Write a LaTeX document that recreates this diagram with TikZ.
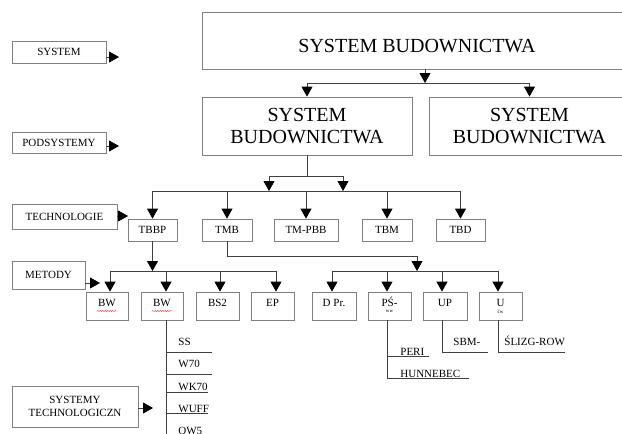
\documentclass[tikz,border=0pt]{standalone}
\usepackage{fontspec}
\setmainfont{Liberation Serif}
\usetikzlibrary{arrows.meta,decorations.pathmorphing}
\begin{document}
\begin{tikzpicture}[x=1pt,y=-1pt,line width=0.8pt]
  \tikzstyle{box}=[draw=black!50,inner sep=0pt,font=\fontsize{11}{13}\selectfont]
  \tikzstyle{bigbox}=[box,font=\fontsize{20}{22}\selectfont,align=center]
  \tikzstyle{lbl}=[box,align=center]
  \tikzstyle{tech}=[box,minimum height=22pt]
  \tikzstyle{meth}=[box,minimum height=28pt,text height=8pt,text depth=6.6pt]
  \tikzstyle{sub}=[inner sep=0pt,font=\fontsize{5}{5}\selectfont,label distance=-11pt]
  \tikzstyle{item}=[inner sep=0pt,anchor=base west,font=\fontsize{11}{13}\selectfont]
  \tikzstyle{line}=[draw=black!75]
  \tikzstyle{arr}=[line,-{Triangle[width=11pt,length=10pt,fill=black,color=black]}]
  \tikzstyle{wave}=[draw=red!80,line width=0.4pt,decorate,decoration={snake,amplitude=0.6pt,segment length=2.5pt}]
  \useasboundingbox (0,0) rectangle (622,434);
  \node[lbl,minimum width=94pt,minimum height=22pt] (lsys) at (59,52) {SYSTEM};
  \node[lbl,minimum width=94pt,minimum height=21pt] (lpod) at (59,142.5) {PODSYSTEMY};
  \node[lbl,minimum width=105pt,minimum height=25pt] (ltech) at (64.5,216.5) {TECHNOLOGIE};
  \node[lbl,minimum width=73pt,minimum height=28pt] (lmet) at (48.5,275) {METODY};
  \node[lbl,minimum width=126pt,minimum height=41pt] (lsyst) at (75,406.5) {SYSTEMY\\TECHNOLOGICZN};
  \node[bigbox,minimum width=430pt,minimum height=57pt,text height=24pt,text depth=0pt] (sysb) at (417,40.5) {SYSTEM BUDOWNICTWA};
  \node[bigbox,minimum width=210pt,minimum height=58pt] (pod1) at (307,126) {SYSTEM\\BUDOWNICTWA};
  \node[bigbox,minimum width=201pt,minimum height=58pt] (pod2) at (529.5,126) {SYSTEM\\BUDOWNICTWA};
  \node[tech,minimum width=49pt] (tbbp) at (152.5,230) {TBBP};
  \node[tech,minimum width=50pt] (tmb) at (227,230) {TMB};
  \node[tech,minimum width=64pt] (tmpbb) at (306,230) {TM-PBB};
  \node[tech,minimum width=50pt] (tbm) at (387,230) {TBM};
  \node[tech,minimum width=49pt] (tbd) at (460.5,230) {TBD};
  \node[meth,minimum width=42pt,label={[sub]below:.}] (bw1) at (107,306) {BW};
  \node[meth,minimum width=42pt] (bw2) at (162,306) {BW};
  \node[meth,minimum width=43pt] (bs2) at (217.5,306) {BS2};
  \node[meth,minimum width=43pt] (ep) at (272.5,306) {EP};
  \node[meth,minimum width=44pt] (dpr) at (334,306) {D Pr.};
  \node[meth,minimum width=43pt,label={[sub]below:ww}] (psw) at (389.5,306) {PŚ-};
  \node[meth,minimum width=44pt] (up) at (445,306) {UP};
  \node[meth,minimum width=43pt,label={[sub]below:ćw}] (uu) at (500.5,306) {U};
  \node[item] (ss) at (178,345) {SS};
  \node[item] (w70) at (178,367) {W70};
  \node[item] (wk70) at (178,390) {WK70};
  \node[item] (wuff) at (178,412) {WUFF};
  \node[item] (ow5) at (178,434) {OW5};
  \node[item] (peri) at (400,355) {PERI};
  \node[item] (hunn) at (400,377) {HUNNEBEC};
  \node[item] (sbm) at (453,345) {SBM-};
  \node[item] (slizg) at (504,345) {ŚLIZG-ROW};
  \draw[wave] ([xshift=-10pt,yshift=-5pt]bw1.center) -- ++(20,0);
  \draw[wave] ([xshift=-10pt,yshift=-5pt]bw2.center) -- ++(20,0);
  \coordinate (s0) at (119,57);
  \coordinate (p0) at (119,146);
  \coordinate (t0) at (128,216);
  \coordinate (m0) at (100,283);
  \coordinate (st0) at (153,408);
  \draw[arr] (lsys.east |- s0) -- (s0);
  \draw[arr] (lpod.east |- p0) -- (p0);
  \draw[arr] (ltech.east |- t0) -- (t0);
  \draw[arr] (lmet.east |- m0) -- (m0);
  \draw[arr] (lsyst.east |- st0) -- (st0);
  \coordinate (j1) at (425,83);
  \draw[arr] (sysb.south -| j1) -- (j1);
  \draw[arr] (j1) -| (pod1.north);
  \draw[arr] (j1) -| (pod2.north);
  \coordinate (j2) at (307,176);
  \coordinate (j2a) at (269,176);
  \coordinate (j2b) at (343,176);
  \coordinate (tbar) at (0,191);
  \draw[line] (pod1.south) -- (j2);
  \draw[line] (j2a) -- (j2b);
  \draw[arr] (j2a) -- (j2a |- tbar);
  \draw[arr] (j2b) -- (j2b |- tbar);
  \draw[line] (tbbp.north |- tbar) -- (tbd.north |- tbar);
  \draw[arr] (tbbp.north |- tbar) -- (tbbp.north);
  \draw[arr] (tmb.north |- tbar) -- (tmb.north);
  \draw[arr] (tmpbb.north |- tbar) -- (tmpbb.north);
  \draw[arr] (tbm.north |- tbar) -- (tbm.north);
  \draw[arr] (tbd.north |- tbar) -- (tbd.north);
  \coordinate (a1) at (110,271);
  \coordinate (a2) at (166,271);
  \coordinate (a3) at (220,271);
  \coordinate (a4) at (276,271);
  \draw[arr] (tbbp.south) -- (tbbp.south |- a1);
  \draw[line] (a1) -- (a4);
  \draw[arr] (a1) -- (a1 |- bw1.north);
  \draw[arr] (a2) -- (a2 |- bw2.north);
  \draw[arr] (a3) -- (a3 |- bs2.north);
  \draw[arr] (a4) -- (a4 |- ep.north);
  \coordinate (j3) at (417,256);
  \coordinate (b1) at (332,271);
  \coordinate (b2) at (387,271);
  \coordinate (b3) at (442,271);
  \coordinate (b4) at (498,271);
  \draw[line] (tmb.south) |- (j3);
  \draw[arr] (j3) -- (j3 |- b1);
  \draw[line] (b1) -- (b4);
  \draw[arr] (b1) -- (b1 |- dpr.north);
  \draw[arr] (b2) -- (b2 |- psw.north);
  \draw[arr] (b3) -- (b3 |- up.north);
  \draw[arr] (b4) -- (b4 |- uu.north);
  \coordinate (bwend) at (166,440);
  \draw[line] (a2 |- bw2.south) -- (bwend);
  \draw[line] (bwend |- 0,352) -- ++(46,0);
  \draw[line] (bwend |- 0,374) -- ++(46,0);
  \draw[line] (bwend |- 0,392) -- ++(42,0);
  \draw[line] (bwend |- 0,413) -- ++(42,0);
  \coordinate (pend) at (387,378);
  \draw[line] (b2 |- psw.south) -- (pend) -- ++(82,0);
  \draw[line] (pend |- 0,356) -- ++(42,0);
  \coordinate (uend) at (488,352);
  \coordinate (wend) at (565,352);
  \draw[line] (b3 |- up.south) |- (uend);
  \draw[line] (b4 |- uu.south) |- (wend);
\end{tikzpicture}
\end{document}
